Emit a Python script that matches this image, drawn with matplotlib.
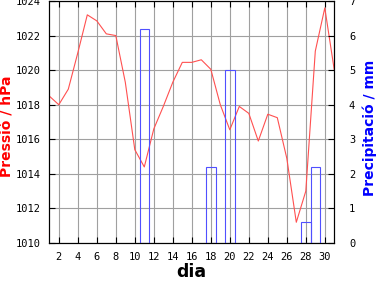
import matplotlib
matplotlib.use('Agg')
import matplotlib.pyplot as plt
import numpy as np

# pressió diària (hPa), dies 1..31
dies = list(range(1, 32))
pressio = [1018.5, 1018.0, 1018.9, 1021.0, 1023.2, 1022.85, 1022.1, 1022.0,
           1019.3, 1015.4, 1014.4, 1016.6, 1017.9, 1019.3, 1020.45, 1020.45,
           1020.6, 1020.05, 1018.0, 1016.55, 1017.9, 1017.5, 1015.9, 1017.45,
           1017.25, 1014.9, 1011.2, 1013.0, 1021.1, 1023.6, 1020.0]

# precipitació (mm), només dies amb pluja
dies_pluja = [11, 18, 20, 28, 29]
pluja = [6.2, 2.2, 5.0, 0.6, 2.2]

xticks = list(range(2, 31, 2))
yticks_p = list(range(1010, 1025, 2))
yticks_mm = list(range(0, 8))

fig = plt.figure(figsize=(3.84, 2.88), dpi=100)
ax = fig.add_axes([49.3 / 384, 1 - 243 / 288, 285 / 384, 242 / 288])
ax2 = ax.twinx()

ax.plot(dies, pressio, color='#ff5050', lw=0.8, zorder=3)
ax2.bar(dies_pluja, pluja, width=1.0, fill=False, edgecolor='#5050ff', lw=0.8)

ax.set_xlim(1, 31)
ax.set_ylim(1010, 1024)
ax2.set_ylim(0, 7)
ax.set_xticks(xticks)
ax.set_yticks(yticks_p)
ax2.set_yticks(yticks_mm)

ax.grid(True, color='#a0a0a0', lw=0.8)
ax.set_axisbelow(True)

mono = 'DejaVu Sans Mono'
for a in (ax, ax2):
    for s in a.spines.values():
        s.set_linewidth(0.8)
ax.tick_params(axis='x', direction='in', length=4, width=0.8, top=True, pad=6.5, labelsize=7.5)
ax.tick_params(axis='y', direction='in', length=4, width=0.8, pad=6, labelsize=7.5)
ax2.tick_params(axis='y', direction='in', length=4, width=0.8, pad=10.5, labelsize=7.5)
for lab in ax.get_xticklabels() + ax.get_yticklabels() + ax2.get_yticklabels():
    lab.set_family(mono)

# etiquetes dels eixos
fig.text(191.5 / 384, 1 - 272 / 288, 'dia', fontsize=12.5, fontweight='bold',
         ha='center', va='center')
fig.text(7.5 / 384, 1 - 126 / 288, 'Pressió / hPa', fontsize=10, fontweight='bold',
         color='red', rotation=90, ha='center', va='center')
fig.text(369.5 / 384, 1 - 127.5 / 288, 'Precipitació / mm', fontsize=10,
         fontweight='bold', color='blue', rotation=90, ha='center', va='center')

fig.savefig('out.png', dpi=100)
